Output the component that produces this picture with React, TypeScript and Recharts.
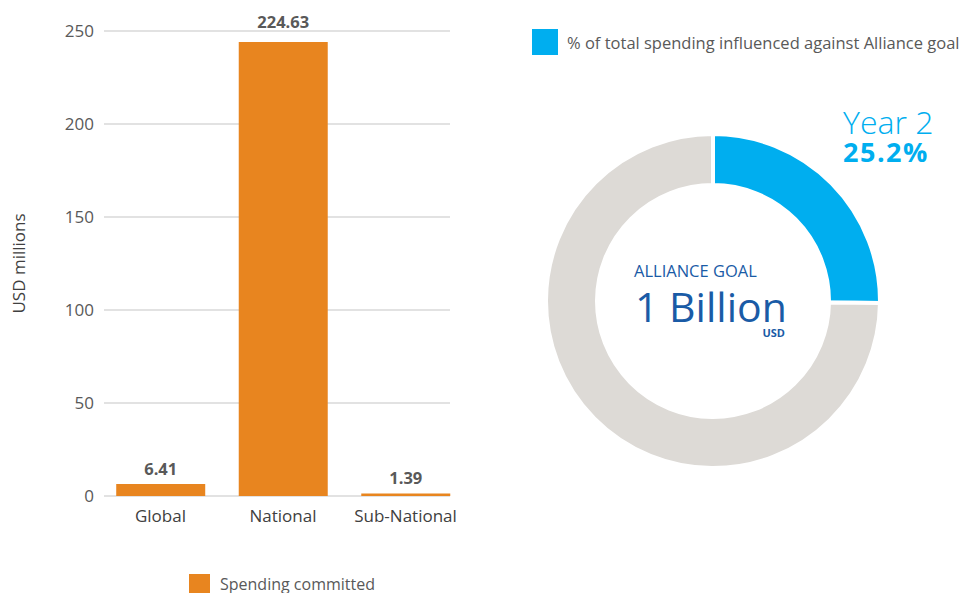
import { BarChart, Bar, XAxis, YAxis, CartesianGrid, LabelList, PieChart, Pie, Cell } from 'recharts';

const categories = ['Global', 'National', 'Sub-National'];
// bar heights as drawn in the source (National bar is drawn taller than its label)
const spending = [6.41, 244.1, 1.39];
const spendingLabels = ['6.41', '224.63', '1.39'];
const yTicks = [0, 50, 100, 150, 200, 250];

const shareNames = ['% of total spending influenced against Alliance goal', 'Remaining'];
const shareValues = [25.2, 74.8];

const FONT = '"Open Sans", sans-serif';
const ORANGE = '#E8851F';
const BLUE = '#00AEEF';
const GREY = '#DDDAD6';
const NAVY = '#1A5BA6';
const TEXT = '#595959';

const barData = categories.map((name, i) => ({ x: i, name, value: spending[i], label: spendingLabels[i] }));
const pieData = shareNames.map((name, i) => ({ name, value: shareValues[i] }));

// donut centre in page coordinates
const CX = 713;
const CY = 301;

function ValueLabel(props: any) {
  const { x, y, width, value } = props;
  // the tall bar's label sits a little higher, clear of the top gridline
  const lift = y < 60 ? 14 : 9;
  return (
    <text x={x + width / 2} y={y - lift} textAnchor="middle" fill={TEXT} fontSize={16.5} fontWeight="bold" fontFamily={FONT}>
      {value}
    </text>
  );
}

export default function App() {
  return (
    <div style={{ position: 'absolute', left: 0, top: 0, width: 960, height: 593, background: '#fff', fontFamily: FONT, overflow: 'hidden' }}>
      <div style={{ position: 'absolute', left: 0, top: 0 }}>
        <BarChart width={480} height={593} data={barData} margin={{ top: 31, right: 30, bottom: 67, left: 30 }}>
          <CartesianGrid vertical={false} stroke="#D9D9D9" strokeWidth={1.5} />
          <XAxis
            type="number"
            dataKey="x"
            domain={[-0.461, 2.363]}
            ticks={[0, 1, 2]}
            tickFormatter={(v: number) => categories[v]}
            axisLine={false}
            tickLine={false}
            tickMargin={8}
            height={30}
            tick={{ fill: '#404040', fontSize: 17, fontFamily: FONT }}
            interval={0}
          />
          <YAxis
            domain={[0, 250]}
            ticks={yTicks}
            axisLine={false}
            tickLine={false}
            width={74}
            tickMargin={4}
            tick={{ fill: TEXT, fontSize: 17, fontFamily: FONT }}
            label={{ value: 'USD millions', angle: -90, position: 'insideLeft', offset: -11, fill: '#404040', fontSize: 17, fontFamily: FONT, style: { textAnchor: 'middle' } }}
          />
          <Bar dataKey="value" name="Spending committed" fill={ORANGE} barSize={89} isAnimationActive={false}>
            <LabelList dataKey="label" content={ValueLabel} />
          </Bar>
        </BarChart>
      </div>
      <div style={{ position: 'absolute', left: 189, top: 573, display: 'flex', alignItems: 'center', whiteSpace: 'nowrap' }}>
        <span style={{ width: 21, height: 21, background: ORANGE, display: 'inline-block' }} />
        <span style={{ marginLeft: 10, fontSize: 16, color: TEXT }}>Spending committed</span>
      </div>

      <div style={{ position: 'absolute', left: 480, top: 0 }}>
        <PieChart width={480} height={593} margin={{ top: 0, right: 0, bottom: 0, left: 0 }}>
          <Pie
            data={pieData}
            dataKey="value"
            cx={CX - 480}
            cy={CY}
            innerRadius={116}
            outerRadius={167}
            startAngle={90}
            endAngle={-270}
            stroke="#fff"
            strokeWidth={4}
            isAnimationActive={false}
          >
            <Cell fill={BLUE} />
            <Cell fill={GREY} />
          </Pie>
        </PieChart>
      </div>
      <div style={{ position: 'absolute', left: 532, top: 29, display: 'flex', alignItems: 'center', whiteSpace: 'nowrap' }}>
        <span style={{ width: 26, height: 26, background: BLUE, display: 'inline-block' }} />
        <span style={{ marginLeft: 9, fontSize: 16.5, color: TEXT }}>{shareNames[0]}</span>
      </div>
      <svg width={960} height={593} style={{ position: 'absolute', left: 0, top: 0, pointerEvents: 'none' }} fontFamily={FONT}>
        <text x={CX - 79} y={CY - 24} fill={NAVY} fontSize={16.5}>ALLIANCE GOAL</text>
        <text x={CX - 78} y={CY + 21} fill={NAVY} fontSize={41}>1 Billion</text>
        <text x={CX + 72} y={CY + 36} fill={NAVY} fontSize={11} fontWeight="bold" textAnchor="end">USD</text>
        <text x={CX + 130} y={CY - 167} fill={BLUE} fontSize={32} fontWeight={300}>Year 2</text>
        <text x={CX + 130} y={CY - 139} fill={BLUE} fontSize={27} fontWeight="bold" letterSpacing={1.5}>{shareValues[0]}%</text>
      </svg>
    </div>
  );
}
